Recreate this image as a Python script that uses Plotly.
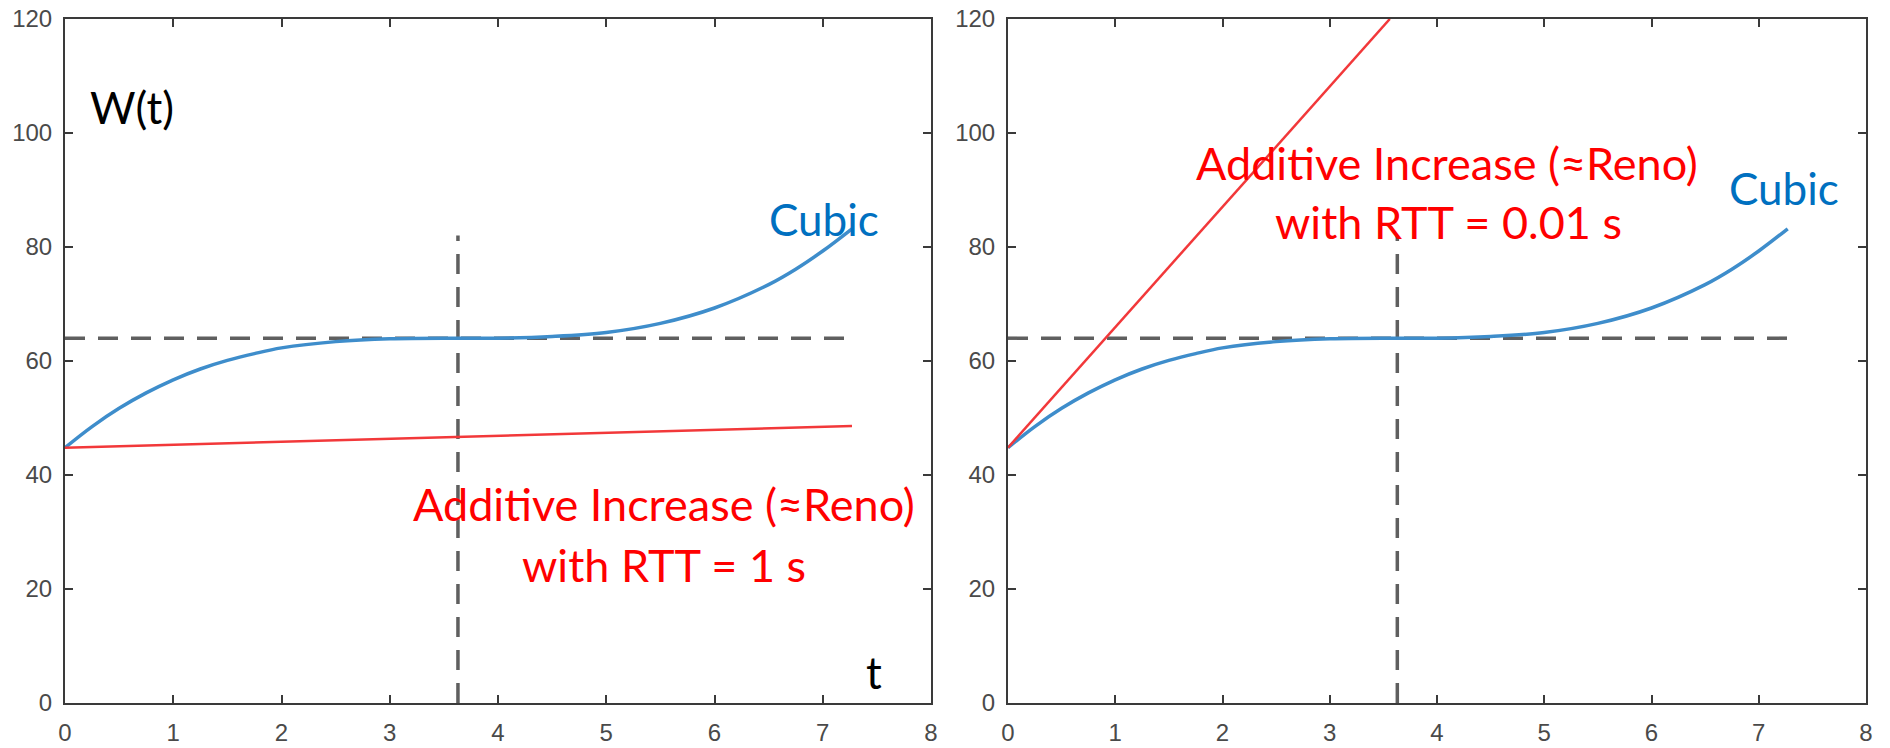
import plotly.graph_objects as go

# ---- data ----
t_cubic = [0, 0.25, 0.5, 0.75, 1.0, 1.25, 1.5, 1.75, 2.0, 2.5, 3.0, 3.63, 4.0, 4.5, 5.0, 5.5, 6.0, 6.5, 6.75, 7.0, 7.27]
w_cubic = [44.8, 48.5, 51.7, 54.4, 56.7, 58.6, 60.1, 61.3, 62.3, 63.4, 63.9, 64.0, 64.0, 64.3, 65.0, 66.6, 69.3, 73.4, 76.1, 79.3, 83.2]

t_reno_left = [0, 7.27]
w_reno_left = [44.8, 48.6]

t_reno_right = [0, 3.56]
w_reno_right = [44.8, 120]

w_max = 64
t_k = 3.63
t_end = 7.27
v_top = 82

x_ticks = [0, 1, 2, 3, 4, 5, 6, 7, 8]
y_ticks = [0, 20, 40, 60, 80, 100, 120]

BLUE = "#3E8DCB"
RED = "#F2383A"
DASH = "#5f5f5f"
TXT_FONT = "Lato, 'Open Sans', sans-serif"

W, H = 1890, 748

fig = go.Figure()

for xa, ya, tr, wr in [("x", "y", t_reno_left, w_reno_left), ("x2", "y2", t_reno_right, w_reno_right)]:
    fig.add_trace(go.Scatter(x=[0, t_end], y=[w_max, w_max], mode="lines", xaxis=xa, yaxis=ya,
                             line=dict(color=DASH, width=3.5, dash="20px,13px"), showlegend=False, hoverinfo="skip"))
    fig.add_trace(go.Scatter(x=[t_k, t_k], y=[0, v_top], mode="lines", xaxis=xa, yaxis=ya,
                             line=dict(color=DASH, width=3.5, dash="20px,13px"), showlegend=False, hoverinfo="skip"))
    fig.add_trace(go.Scatter(x=t_cubic, y=w_cubic, mode="lines", xaxis=xa, yaxis=ya,
                             line=dict(color=BLUE, width=3.5, shape="spline"), showlegend=False))
    fig.add_trace(go.Scatter(x=tr, y=wr, mode="lines", xaxis=xa, yaxis=ya,
                             line=dict(color=RED, width=2.5), showlegend=False))

axis_common = dict(showline=True, linecolor="#3a3a3a", linewidth=2, mirror="ticks",
                   ticks="inside", ticklen=8, tickwidth=2, tickcolor="#3a3a3a",
                   showgrid=False, zeroline=False, automargin=False,
                   tickfont=dict(family="Liberation Sans, Arial, sans-serif", size=24, color="#4a4a4a"))

def xd(a, b):
    return [a / W, b / W]

ydom = [1 - 703 / H, 1 - 19 / H]

fig.update_layout(
    width=W, height=H,
    margin=dict(l=0, r=0, t=0, b=0, autoexpand=False),
    paper_bgcolor="white", plot_bgcolor="white",
    xaxis=dict(domain=xd(65, 931), range=[0, 8], tickvals=x_ticks, anchor="y",
               ticklabelstandoff=7, **axis_common),
    yaxis=dict(domain=ydom, range=[0, 120], tickvals=y_ticks, anchor="x",
               ticklabelstandoff=6, **axis_common),
    xaxis2=dict(domain=xd(1008, 1866), range=[0, 8], tickvals=x_ticks, anchor="y2",
                ticklabelstandoff=7, **axis_common),
    yaxis2=dict(domain=ydom, range=[0, 120], tickvals=y_ticks, anchor="x2",
                ticklabelstandoff=6, **axis_common),
)

def note(text, x, y, xref, yref, color, size=45):
    fig.add_annotation(text=text, x=x, y=y, xref=xref, yref=yref, showarrow=False,
                       font=dict(family=TXT_FONT, size=size, color=color), xanchor="center", yanchor="middle")

note("W(t)", 0.62, 104.5, "x", "y", "black", 44)
note("t", 7.47, 5.4, "x", "y", "black", 44)
note("Cubic", 7.01, 85.0, "x", "y", "#0070C0", 44)
note("Additive Increase (≈Reno)", 5.53, 35.0, "x", "y", "#FF0000")
note("with RTT = 1 s", 5.53, 24.2, "x", "y", "#FF0000")

note("Cubic", 7.24, 90.4, "x2", "y2", "#0070C0", 44)
note("Additive Increase (≈Reno)", 4.09, 94.8, "x2", "y2", "#FF0000")
note("with RTT = 0.01 s", 4.11, 84.3, "x2", "y2", "#FF0000")

fig.write_html("out.html",
               config={"displayModeBar": False},
               post_script="document.body.style.margin='0';document.body.style.overflow='hidden';")
